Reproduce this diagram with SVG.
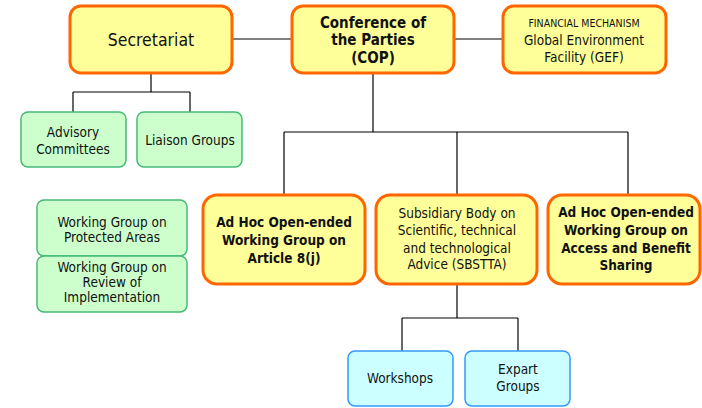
<svg xmlns="http://www.w3.org/2000/svg" width="702" height="408" viewBox="0 0 702 408">
<style>
.y{fill:#ffff99;stroke:#ff6600;stroke-width:3}
.g{fill:#ccffcc;stroke:#44bb77;stroke-width:1.5}
.b{fill:#ccffff;stroke:#3399ff;stroke-width:1.5}
text{font-family:"DejaVu Sans Condensed","DejaVu Sans",Verdana,sans-serif;fill:#111;text-anchor:middle}
.n{font-size:13.5px}
.bd{font-size:13.5px;font-weight:bold}
.c line{stroke:#000;stroke-width:1.2}
</style>
<rect width="702" height="408" fill="#fff"/>
<g class="c" id="connectors">
<line x1="232" y1="39" x2="292" y2="39"/>
<line x1="454" y1="39" x2="503" y2="39"/>
<line x1="151" y1="73" x2="151" y2="92"/>
<line x1="73" y1="92" x2="190" y2="92"/>
<line x1="73" y1="92" x2="73" y2="112"/>
<line x1="190" y1="92" x2="190" y2="112"/>
<line x1="373" y1="73" x2="373" y2="132" stroke-width="1.6"/>
<line x1="284" y1="132" x2="628" y2="132"/>
<line x1="284" y1="132" x2="284" y2="195"/>
<line x1="457" y1="132" x2="457" y2="195"/>
<line x1="628" y1="132" x2="628" y2="195"/>
<line x1="457" y1="284" x2="457" y2="318"/>
<line x1="402" y1="318" x2="518" y2="318"/>
<line x1="402" y1="318" x2="402" y2="351"/>
<line x1="518" y1="318" x2="518" y2="351"/>
</g>
<g id="secretariat">
<rect class="y" x="70" y="6" width="162" height="67" rx="11"/>
<text x="151" y="46" style="font-size:17.5px">Secretariat</text>
</g>
<g id="cop">
<rect class="y" x="292" y="6" width="162" height="67" rx="11"/>
<text class="bd" x="373" y="28" style="font-size:15px">Conference of</text>
<text class="bd" x="373" y="45" style="font-size:15px">the Parties</text>
<text class="bd" x="373" y="63" style="font-size:15px">(COP)</text>
</g>
<g id="gef">
<rect class="y" x="503" y="6" width="163" height="67" rx="11"/>
<text x="584" y="27" style="font-size:10.5px">FINANCIAL MECHANISM</text>
<text class="n" x="584" y="45">Global Environment</text>
<text class="n" x="584" y="62">Facility (GEF)</text>
</g>
<g id="advisory">
<rect class="g" x="21" y="112" width="105" height="55" rx="7"/>
<text class="n" x="73" y="137">Advisory</text>
<text class="n" x="73" y="154">Committees</text>
</g>
<g id="liaison">
<rect class="g" x="137" y="112" width="105" height="55" rx="7"/>
<text class="n" x="190" y="145">Liaison Groups</text>
</g>
<g id="wg-protected">
<rect class="g" x="37" y="200" width="150" height="56" rx="7"/>
<text class="n" x="112" y="227">Working Group on</text>
<text class="n" x="112" y="242">Protected Areas</text>
</g>
<g id="wg-review">
<rect class="g" x="37" y="256" width="150" height="56" rx="7"/>
<text class="n" x="112" y="272">Working Group on</text>
<text class="n" x="112" y="287">Review of</text>
<text class="n" x="112" y="302">Implementation</text>
</g>
<g id="adhoc-8j">
<rect class="y" x="203" y="195" width="162" height="89" rx="14"/>
<text class="bd" x="284" y="227">Ad Hoc Open-ended</text>
<text class="bd" x="284" y="245">Working Group on</text>
<text class="bd" x="284" y="263">Article 8(j)</text>
</g>
<g id="sbstta">
<rect class="y" x="376" y="195" width="161" height="89" rx="14"/>
<text class="n" x="457" y="218">Subsidiary Body on</text>
<text class="n" x="457" y="235">Scientific, technical</text>
<text class="n" x="457" y="253">and technological</text>
<text class="n" x="457" y="269">Advice (SBSTTA)</text>
</g>
<g id="adhoc-abs">
<rect class="y" x="548" y="195" width="152" height="89" rx="14"/>
<text class="bd" x="626" y="217">Ad Hoc Open-ended</text>
<text class="bd" x="626" y="235">Working Group on</text>
<text class="bd" x="626" y="253">Access and Benefit</text>
<text class="bd" x="626" y="270">Sharing</text>
</g>
<g id="workshops">
<rect class="b" x="348" y="351" width="105" height="55" rx="7"/>
<text class="n" x="400" y="383">Workshops</text>
</g>
<g id="expart">
<rect class="b" x="465" y="351" width="105" height="55" rx="7"/>
<text class="n" x="518" y="374">Expart</text>
<text class="n" x="518" y="391">Groups</text>
</g>
</svg>
